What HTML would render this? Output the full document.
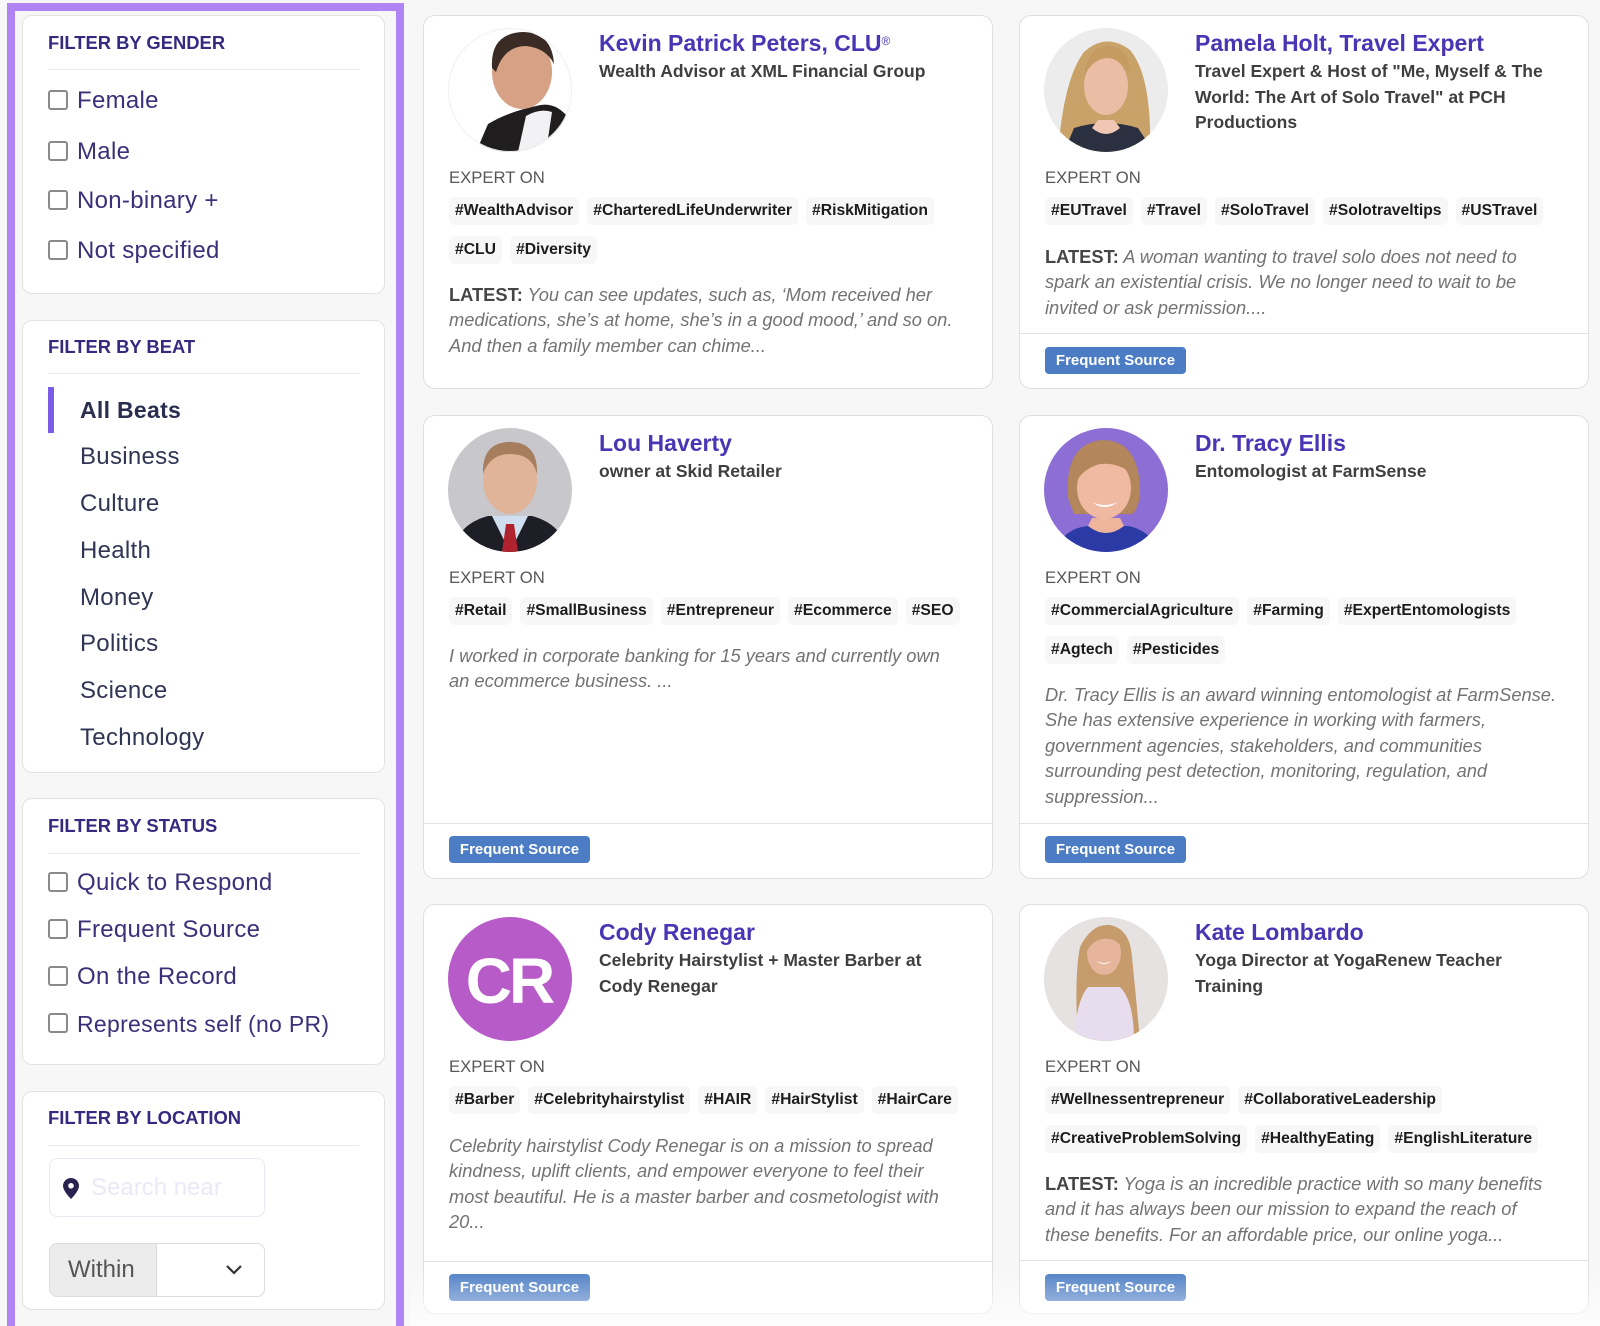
<!DOCTYPE html>
<html><head><meta charset="utf-8">
<style>
*{box-sizing:border-box}
html{margin:0;padding:0;width:1600px;height:1326px;overflow:hidden}
body{margin:0;padding:0;width:1600px;height:1326px;overflow:hidden;background:#f7f7f7;font-family:"Liberation Sans",Arial,sans-serif;position:relative}
.frame{position:absolute;left:7px;top:3px;width:397px;height:1323px;border:8px solid #b184f5;border-bottom:none;background:#f7f7f7}
.sc{position:absolute;left:22px;width:363px;background:#fff;border:1px solid #e2e2e2;border-radius:10px}
.sh{position:absolute;left:25px;font-weight:bold;font-size:18.4px;line-height:20px;color:#352a80;white-space:nowrap}
.sd{position:absolute;left:25px;width:312px;height:1px;background:#ebe9f3}
.cb{position:absolute;left:25px;width:20px;height:20px;border:2px solid #8a8a8e;border-radius:3px}
.cl{position:absolute;left:54px;font-size:24px;line-height:28px;color:#3b3079;white-space:nowrap;letter-spacing:0.3px}
.bt{position:absolute;left:57px;font-size:24px;line-height:28px;color:#2f3553;white-space:nowrap;letter-spacing:0.3px}
.card{position:absolute;background:#fff;border:1px solid #dfdfdf;border-radius:12px;overflow:hidden}
.av{position:absolute;left:24px;top:12px;width:124px;height:124px}
.nm{position:absolute;left:175px;top:13px;font-weight:bold;font-size:23px;line-height:28px;color:#4a35b5;white-space:nowrap}
.nm sup{font-size:12px;font-weight:normal;vertical-align:top;position:relative;top:-2px}
.sub{position:absolute;left:175px;top:43px;font-weight:bold;font-size:17.5px;line-height:25.5px;color:#3f3f3f;white-space:nowrap}
.exp{position:absolute;left:25px;top:152px;font-size:16.7px;line-height:20px;color:#585858;white-space:nowrap}
.tr{position:absolute;left:25px;height:28px;white-space:nowrap;display:flex}
.tg{height:28px;line-height:28px;padding:0 6px;margin-right:8px;background:#f7f7f7;border-radius:6px;font-weight:bold;font-size:15.7px;color:#1c1c1c}
.ds{position:absolute;left:25px;font-style:italic;font-size:18.3px;line-height:25.4px;color:#737373;white-space:nowrap}
.ds b{font-style:normal;color:#454545}
.ft{position:absolute;left:0;right:0;height:1px;background:#e3e3e3}
.bd{position:absolute;left:25px;width:141px;height:27px;line-height:27px;background:#4b7cc4;border-radius:4px;color:#fff;font-weight:bold;font-size:15px;text-align:center;white-space:nowrap}
</style></head><body>

<div class="frame"></div>

<!-- Gender -->
<div class="sc" style="top:15px;height:279px">
  <div class="sh" style="top:17px">FILTER BY GENDER</div>
  <div class="sd" style="top:53px"></div>
  <div class="cb" style="top:74px"></div><div class="cl" style="top:71px">Female</div>
  <div class="cb" style="top:125px"></div><div class="cl" style="top:122px">Male</div>
  <div class="cb" style="top:174px"></div><div class="cl" style="top:171px">Non-binary +</div>
  <div class="cb" style="top:224px"></div><div class="cl" style="top:221px">Not specified</div>
</div>

<!-- Beat -->
<div class="sc" style="top:320px;height:453px">
  <div class="sh" style="top:16px">FILTER BY BEAT</div>
  <div class="sd" style="top:52px"></div>
  <div style="position:absolute;left:25px;top:66px;width:6px;height:46px;background:#7a5ce6"></div>
  <div class="bt" style="top:75px;font-weight:bold;font-size:23px;color:#2a2f4f">All Beats</div>
  <div class="bt" style="top:122px">Business</div>
  <div class="bt" style="top:169px">Culture</div>
  <div class="bt" style="top:216px">Health</div>
  <div class="bt" style="top:263px">Money</div>
  <div class="bt" style="top:309px">Politics</div>
  <div class="bt" style="top:356px">Science</div>
  <div class="bt" style="top:403px">Technology</div>
</div>

<!-- Status -->
<div class="sc" style="top:798px;height:267px">
  <div class="sh" style="top:17px">FILTER BY STATUS</div>
  <div class="sd" style="top:54px"></div>
  <div class="cb" style="top:73px"></div><div class="cl" style="top:70px">Quick to Respond</div>
  <div class="cb" style="top:120px"></div><div class="cl" style="top:117px">Frequent Source</div>
  <div class="cb" style="top:167px"></div><div class="cl" style="top:164px">On the Record</div>
  <div class="cb" style="top:214px"></div><div class="cl" style="top:211px;font-size:23px">Represents self (no PR)</div>
</div>

<!-- Location -->
<div class="sc" style="top:1091px;height:219px">
  <div class="sh" style="top:16px">FILTER BY LOCATION</div>
  <div class="sd" style="top:53px"></div>
  <div style="position:absolute;left:26px;top:66px;width:216px;height:59px;border:1px solid #e9e7f3;border-radius:8px">
    <svg style="position:absolute;left:13px;top:19px" width="16" height="21" viewBox="0 0 16 21"><path d="M8 0C3.6 0 0 3.5 0 7.8 0 13.3 8 21 8 21s8-7.7 8-13.2C16 3.5 12.4 0 8 0z" fill="#2a2350"/><circle cx="8" cy="7.8" r="2.8" fill="#fff"/></svg>
    <div style="position:absolute;left:41px;top:15px;font-size:24px;line-height:28px;color:#ebe9f5;white-space:nowrap">Search near</div>
  </div>
  <div style="position:absolute;left:26px;top:151px;width:216px;height:54px;border:1px solid #dcdcdc;border-radius:8px;overflow:hidden">
    <div style="position:absolute;left:0;top:0;width:107px;height:54px;background:#ececec;border-right:1px solid #d8d8d8"></div>
    <div style="position:absolute;left:18px;top:12px;font-size:24px;line-height:28px;color:#555">Within</div>
    <svg style="position:absolute;left:175px;top:20px" width="18" height="12" viewBox="0 0 18 12"><path d="M2 2l7 7 7-7" fill="none" stroke="#333" stroke-width="2.2"/></svg>
  </div>
</div>

<!-- Card 1 -->
<div class="card" style="left:423px;top:15px;width:570px;height:374px">
  <svg class="av" viewBox="0 0 124 124"><defs><clipPath id="c1"><circle cx="62" cy="62" r="62"/></clipPath></defs>
    <g clip-path="url(#c1)"><rect width="124" height="124" fill="#fff"/>
    <path d="M28 124 L40 96 Q60 84 88 78 Q108 72 122 92 L124 124Z" fill="#1f1d1d"/>
    <path d="M70 124 L78 88 Q92 80 104 84 L98 124Z" fill="#f2f2f4"/>
    <ellipse cx="74" cy="44" rx="30" ry="37" fill="#d6a185"/>
    <path d="M44 40 Q42 6 74 4 Q104 4 106 36 Q98 20 78 18 Q56 18 48 44Z" fill="#3a2b24"/>
    </g><circle cx="62" cy="62" r="61.5" fill="none" stroke="#f0f0f0"/></svg>
  <div class="nm">Kevin Patrick Peters, CLU<sup>®</sup></div>
  <div class="sub">Wealth Advisor at XML Financial Group</div>
  <div class="exp">EXPERT ON</div>
  <div class="tr" style="top:181px"><span class="tg">#WealthAdvisor</span><span class="tg">#CharteredLifeUnderwriter</span><span class="tg">#RiskMitigation</span></div>
  <div class="tr" style="top:220px"><span class="tg">#CLU</span><span class="tg">#Diversity</span></div>
  <div class="ds" style="top:266px"><b>LATEST:</b> You can see updates, such as, ‘Mom received her<br>medications, she’s at home, she’s in a good mood,’ and so on.<br>And then a family member can chime...</div>
</div>

<!-- Card 2 -->
<div class="card" style="left:1019px;top:15px;width:570px;height:374px">
  <svg class="av" viewBox="0 0 124 124"><defs><clipPath id="c2"><circle cx="62" cy="62" r="62"/></clipPath></defs>
    <g clip-path="url(#c2)"><rect width="124" height="124" fill="#ececec"/>
    <path d="M14 124 Q20 50 40 24 Q62 4 86 22 Q108 48 106 124Z" fill="#c9a26a"/>
    <path d="M20 124 L30 100 Q62 90 94 100 L110 124Z" fill="#2b3040"/>
    <ellipse cx="62" cy="58" rx="22" ry="29" fill="#ebbda4"/>
    <path d="M40 48 Q44 18 66 18 Q86 20 86 48 Q78 30 62 30 Q48 32 40 48Z" fill="#c59b62"/>
    <path d="M48 100 Q62 112 76 100 L70 92 L54 92Z" fill="#efc7b2"/>
    </g></svg>
  <div class="nm">Pamela Holt, Travel Expert</div>
  <div class="sub">Travel Expert &amp; Host of "Me, Myself &amp; The<br>World: The Art of Solo Travel" at PCH<br>Productions</div>
  <div class="exp">EXPERT ON</div>
  <div class="tr" style="top:181px"><span class="tg">#EUTravel</span><span class="tg">#Travel</span><span class="tg">#SoloTravel</span><span class="tg">#Solotraveltips</span><span class="tg">#USTravel</span></div>
  <div class="ds" style="top:228px"><b>LATEST:</b> A woman wanting to travel solo does not need to<br>spark an existential crisis. We no longer need to wait to be<br>invited or ask permission....</div>
  <div class="ft" style="top:317px"></div>
  <div class="bd" style="top:331px">Frequent Source</div>
</div>

<!-- Card 3 Lou -->
<div class="card" style="left:423px;top:415px;width:570px;height:464px">
  <svg class="av" viewBox="0 0 124 124"><defs><clipPath id="c3"><circle cx="62" cy="62" r="62"/></clipPath></defs>
    <g clip-path="url(#c3)"><rect width="124" height="124" fill="#c8c8cc"/>
    <path d="M4 124 Q10 96 40 88 L84 88 Q114 96 120 124Z" fill="#1e1f26"/>
    <path d="M44 88 L62 124 L80 88Z" fill="#cfdff0"/>
    <path d="M58 96 L66 96 L70 124 L54 124Z" fill="#b0232e"/>
    <ellipse cx="62" cy="52" rx="27" ry="34" fill="#e1b49a"/>
    <path d="M35 46 Q34 14 62 14 Q90 14 89 46 Q84 26 62 26 Q42 26 35 46Z" fill="#a67e5e"/>
    </g></svg>
  <div class="nm">Lou Haverty</div>
  <div class="sub">owner at Skid Retailer</div>
  <div class="exp">EXPERT ON</div>
  <div class="tr" style="top:181px"><span class="tg">#Retail</span><span class="tg">#SmallBusiness</span><span class="tg">#Entrepreneur</span><span class="tg">#Ecommerce</span><span class="tg">#SEO</span></div>
  <div class="ds" style="top:227px">I worked in corporate banking for 15 years and currently own<br>an ecommerce business. ...</div>
  <div class="ft" style="top:407px"></div>
  <div class="bd" style="top:420px">Frequent Source</div>
</div>

<!-- Card 4 Tracy -->
<div class="card" style="left:1019px;top:415px;width:570px;height:464px">
  <svg class="av" viewBox="0 0 124 124"><defs><clipPath id="c4"><circle cx="62" cy="62" r="62"/></clipPath></defs>
    <g clip-path="url(#c4)"><rect width="124" height="124" fill="#8c6ed5"/>
    <path d="M10 124 Q20 100 44 98 L84 98 Q106 102 116 124Z" fill="#2c3aa6"/>
    <path d="M44 98 Q62 112 80 98 L76 90 L48 90Z" fill="#eeb49c"/>
    <path d="M24 70 Q20 16 58 12 Q94 12 96 60 Q96 80 88 86 L30 86Z" fill="#b3865c"/>
    <ellipse cx="60" cy="60" rx="27" ry="31" fill="#f0b9a2"/>
    <path d="M32 54 Q36 22 62 22 Q86 24 90 48 Q76 34 56 36 Q40 40 32 54Z" fill="#b3865c"/>
    <path d="M48 74 Q60 84 74 74 Q60 80 48 74Z" fill="#fff"/>
    </g></svg>
  <div class="nm">Dr. Tracy Ellis</div>
  <div class="sub">Entomologist at FarmSense</div>
  <div class="exp">EXPERT ON</div>
  <div class="tr" style="top:181px"><span class="tg">#CommercialAgriculture</span><span class="tg">#Farming</span><span class="tg">#ExpertEntomologists</span></div>
  <div class="tr" style="top:220px"><span class="tg">#Agtech</span><span class="tg">#Pesticides</span></div>
  <div class="ds" style="top:266px">Dr. Tracy Ellis is an award winning entomologist at FarmSense.<br>She has extensive experience in working with farmers,<br>government agencies, stakeholders, and communities<br>surrounding pest detection, monitoring, regulation, and<br>suppression...</div>
  <div class="ft" style="top:407px"></div>
  <div class="bd" style="top:420px">Frequent Source</div>
</div>

<!-- Card 5 CR -->
<div class="card" style="left:423px;top:904px;width:570px;height:410px">
  <svg class="av" viewBox="0 0 124 124"><circle cx="62" cy="62" r="62" fill="#b75bc8"/>
    <text x="61" y="86" text-anchor="middle" font-family="Liberation Sans, Arial, sans-serif" font-weight="bold" font-size="64" letter-spacing="-3" fill="#fff">CR</text></svg>
  <div class="nm">Cody Renegar</div>
  <div class="sub">Celebrity Hairstylist + Master Barber at<br>Cody Renegar</div>
  <div class="exp">EXPERT ON</div>
  <div class="tr" style="top:181px"><span class="tg">#Barber</span><span class="tg">#Celebrityhairstylist</span><span class="tg">#HAIR</span><span class="tg">#HairStylist</span><span class="tg">#HairCare</span></div>
  <div class="ds" style="top:228px">Celebrity hairstylist Cody Renegar is on a mission to spread<br>kindness, uplift clients, and empower everyone to feel their<br>most beautiful. He is a master barber and cosmetologist with<br>20...</div>
  <div class="ft" style="top:356px"></div>
  <div class="bd" style="top:369px">Frequent Source</div>
</div>

<!-- Card 6 Kate -->
<div class="card" style="left:1019px;top:904px;width:570px;height:410px">
  <svg class="av" viewBox="0 0 124 124"><defs><clipPath id="c6"><circle cx="62" cy="62" r="62"/></clipPath></defs>
    <g clip-path="url(#c6)"><rect width="124" height="124" fill="#e6e2e1"/>
    <path d="M34 124 Q30 60 36 30 Q48 6 66 8 Q86 12 88 40 Q92 80 96 124Z" fill="#c79c6c"/>
    <path d="M30 124 Q32 84 44 70 L76 70 Q90 84 90 124Z" fill="#e7ddef"/>
    <ellipse cx="60" cy="36" rx="17" ry="22" fill="#e6b59c"/>
    <path d="M43 34 Q44 12 62 12 Q78 14 78 30 Q70 20 58 22 Q48 24 43 34Z" fill="#c79c6c"/>
    <path d="M52 44 Q60 50 68 44 Q60 48 52 44Z" fill="#fff"/>
    </g></svg>
  <div class="nm">Kate Lombardo</div>
  <div class="sub">Yoga Director at YogaRenew Teacher<br>Training</div>
  <div class="exp">EXPERT ON</div>
  <div class="tr" style="top:181px"><span class="tg">#Wellnessentrepreneur</span><span class="tg">#CollaborativeLeadership</span></div>
  <div class="tr" style="top:220px"><span class="tg">#CreativeProblemSolving</span><span class="tg">#HealthyEating</span><span class="tg">#EnglishLiterature</span></div>
  <div class="ds" style="top:266px"><b>LATEST:</b> Yoga is an incredible practice with so many benefits<br>and it has always been our mission to expand the reach of<br>these benefits. For an affordable price, our online yoga...</div>
  <div class="ft" style="top:355px"></div>
  <div class="bd" style="top:369px">Frequent Source</div>
</div>

<div style="position:absolute;left:410px;top:1268px;width:1190px;height:58px;background:linear-gradient(to bottom,rgba(255,255,255,0),rgba(255,255,255,0.7))"></div>

</body></html>
